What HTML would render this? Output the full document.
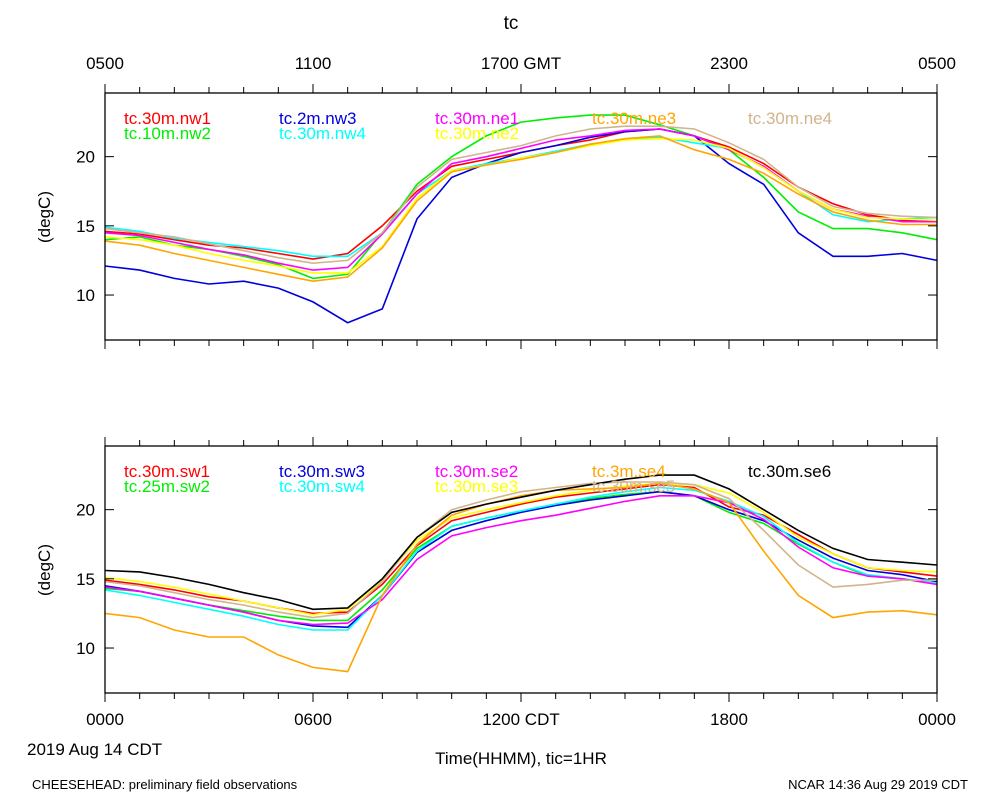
<!DOCTYPE html>
<html><head><meta charset="utf-8"><style>
body{margin:0;background:#fff;}
svg{display:block;font-family:"Liberation Sans",sans-serif;}
</style></head><body>
<svg id="chart" width="1000" height="800" xmlns="http://www.w3.org/2000/svg">
<rect width="1000" height="800" fill="#fff"/>
<text x="511" y="29" font-size="19" text-anchor="middle">tc</text>
<text x="27" y="755" font-size="17">2019 Aug 14 CDT</text>
<text x="521" y="764" font-size="17" text-anchor="middle">Time(HHMM), tic=1HR</text>
<text x="32" y="789" font-size="13">CHEESEHEAD: preliminary field observations</text>
<text x="968" y="789" font-size="13" text-anchor="end">NCAR 14:36 Aug 29 2019 CDT</text>
</svg>
<script>
const hours=[0,1,2,3,4,5,6,7,8,9,10,11,12,13,14,15,16,17,18,19,20,21,22,23,24];
const topTickLabels=["0500","1100","1700 GMT","2300","0500"];
const bottomTickLabels=["0000","0600","1200 CDT","1800","0000"];
const yTicks=[10,15,20];
const topNames=["tc.30m.nw1","tc.10m.nw2","tc.2m.nw3","tc.30m.nw4","tc.30m.ne1","tc.30m.ne2","tc.30m.ne3","tc.30m.ne4"];
const topColors=["#ff0000","#00ee00","#0000dd","#00ffff","#ff00ff","#ffff00","#ffa500","#d2b48c"];
const nw1=[14.6,14.4,14.0,13.6,13.4,13.0,12.6,13.0,15.0,17.5,19.3,19.8,20.3,20.8,21.2,21.8,22.0,21.5,20.7,19.5,17.8,16.6,15.8,15.4,15.3];
const nw2=[14.0,14.2,13.6,13.3,12.8,12.2,11.2,11.5,14.5,18.0,20.0,21.5,22.5,22.8,23.0,23.0,22.3,21.5,20.5,18.5,16.0,14.8,14.8,14.5,14.0];
const nw3=[12.1,11.8,11.2,10.8,11.0,10.5,9.5,8.0,9.0,15.5,18.5,19.5,20.3,20.8,21.4,21.8,22.0,21.5,19.5,18.0,14.5,12.8,12.8,13.0,12.5];
const nw4=[14.9,14.6,14.1,13.8,13.5,13.2,12.8,12.8,14.5,17.3,19.0,19.5,19.9,20.4,20.9,21.2,21.4,21.0,20.6,19.2,17.5,15.8,15.3,15.5,15.6];
const ne1=[14.5,14.3,13.8,13.3,12.9,12.3,11.8,12.0,14.4,17.3,19.5,20.0,20.6,21.2,21.5,21.9,22.0,21.5,20.5,19.3,17.5,16.2,15.7,15.3,15.3];
const ne2=[14.2,14.0,13.6,13.0,12.5,12.1,11.6,11.6,13.5,17.0,19.0,19.4,19.9,20.3,20.8,21.2,21.3,21.2,20.6,19.2,17.5,16.2,15.6,15.5,15.4];
const ne3=[13.9,13.6,13.0,12.5,12.0,11.5,11.0,11.3,13.4,16.8,18.9,19.4,19.8,20.3,20.9,21.3,21.5,20.5,19.8,18.8,17.3,16.0,15.4,15.1,15.1];
const ne4=[14.8,14.5,14.2,13.7,13.2,12.7,12.3,12.5,14.5,17.8,19.8,20.3,20.8,21.5,22.0,22.2,22.2,22.0,21.0,19.8,17.8,16.4,15.9,15.7,15.6];
const botNames=["tc.30m.sw1","tc.25m.sw2","tc.30m.sw3","tc.30m.sw4","tc.30m.se2","tc.30m.se3","tc.3m.se4","tc.30m.se5","tc.30m.se6"];
const botColors=["#ff0000","#00ee00","#0000dd","#00ffff","#ff00ff","#ffff00","#ffa500","#d2b48c","#000000"];
const sw1=[14.9,14.6,14.2,13.7,13.4,12.9,12.5,12.6,14.6,17.4,19.2,19.8,20.4,20.9,21.2,21.5,21.8,21.6,20.2,19.6,18.2,16.8,15.8,15.5,15.2];
const sw2=[14.3,14.1,13.6,13.1,12.7,12.3,12.0,12.0,14.2,17.2,18.8,19.4,19.9,20.4,20.8,21.1,21.3,21.0,19.8,19.0,17.5,16.2,15.2,15.0,14.7];
const sw3=[14.5,14.1,13.6,13.1,12.6,12.0,11.6,11.5,13.8,16.9,18.5,19.2,19.8,20.3,20.7,21.0,21.3,21.0,20.0,19.2,17.8,16.5,15.6,15.3,14.8];
const sw4=[14.2,13.8,13.3,12.8,12.3,11.7,11.3,11.3,13.8,17.0,18.8,19.4,19.9,20.4,20.9,21.3,21.6,21.4,20.6,19.5,17.6,16.2,15.3,15.0,14.7];
const se2=[14.4,14.1,13.6,13.1,12.6,12.0,11.7,11.8,13.5,16.4,18.1,18.7,19.2,19.6,20.1,20.6,21.0,21.0,20.5,19.3,17.3,15.8,15.2,15.0,14.6];
const se3=[15.1,14.8,14.4,13.9,13.4,12.9,12.4,12.8,14.9,17.8,19.4,20.0,20.5,21.0,21.4,21.7,21.9,21.8,21.2,19.8,18.0,16.8,15.8,15.6,15.5];
const se4=[12.5,12.2,11.3,10.8,10.8,9.5,8.6,8.3,13.8,17.5,19.6,20.4,21.0,21.4,21.5,21.6,21.9,21.5,20.5,17.0,13.8,12.2,12.6,12.7,12.4];
const se5=[14.8,14.5,14.0,13.5,13.1,12.6,12.2,12.5,14.8,18.0,20.0,20.7,21.3,21.6,21.9,22.0,22.0,21.8,20.8,18.5,16.0,14.4,14.6,14.9,14.9];
const se6=[15.6,15.5,15.1,14.6,14.0,13.5,12.8,12.9,15.0,18.0,19.8,20.4,20.9,21.4,21.8,22.2,22.5,22.5,21.5,20.0,18.5,17.2,16.4,16.2,16.0];
const topSeries=[nw1,nw2,nw3,nw4,ne1,ne2,ne3,ne4];
const botSeries=[sw1,sw2,sw3,sw4,se2,se3,se4,se5,se6];

const NS="http://www.w3.org/2000/svg";
const svg=document.getElementById('chart');
const X0=105,X1=937,YMIN=6.75,YMAX=24.6;
function xScale(h){return X0+(X1-X0)*h/24;}
function mk(tag,attrs,parent){const e=document.createElementNS(NS,tag);for(const k in attrs)e.setAttribute(k,attrs[k]);(parent||svg).appendChild(e);return e;}

function panel(top,series,names,colors,pname){
  const bot=top+247;
  const yScale=v=>bot-(v-YMIN)/(YMAX-YMIN)*247;
  const g=mk('g',{});
  
  
  // lines
  series.forEach((s,i)=>{
    const p=mk('polyline',{points:s.map((v,j)=>xScale(hours[j]).toFixed(1)+','+yScale(v).toFixed(1)).join(' '),fill:'none',stroke:colors[i],'stroke-width':1.6},g);
    
    
  });
  // frame
  const fr=mk('rect',{x:X0,y:top,width:X1-X0,height:247,fill:'none',stroke:'#000','stroke-width':1.3},g);
  
  
  // x ticks
  for(let h=0;h<=24;h++){
    const x=xScale(h),len=(h%6===0)?9:6;
    mk('line',{x1:x,x2:x,y1:top,y2:top-len,stroke:'#000'},g);
    mk('line',{x1:x,x2:x,y1:bot,y2:bot+len,stroke:'#000'},g);
  }
  // y ticks
  yTicks.forEach(v=>{
    const y=yScale(v);
    mk('line',{x1:X0,x2:X0+9,y1:y,y2:y,stroke:'#000'},g);
    mk('line',{x1:X1,x2:X1-9,y1:y,y2:y,stroke:'#000'},g);
    const t=mk('text',{x:95,y:y+6,'font-size':17,'text-anchor':'end'},g);
    t.textContent=v;
    
    
  });
  const yt=mk('text',{x:0,y:0,'font-size':17,'text-anchor':'middle',transform:`translate(50,${top+124}) rotate(-90)`},g);
  yt.textContent='(degC)';
  
  
  // legend
  const cols=[124,279,435,592,748];
  names.forEach((n,i)=>{
    let c,r;
    if(i===names.length-1&&names.length%2===1){c=4;r=0;}else{c=Math.floor(i/2);r=i%2;}
    if(names.length===8&&i===7){c=4;r=0;}
    const t=mk('text',{x:cols[c],y:top+31+r*15,'font-size':17,fill:colors[i]},g);
    t.textContent=n;
    
    
  });
  return {top,bot};
}
const pt=panel(93,topSeries,topNames,topColors,'top');
const pb=panel(446,botSeries,botNames,botColors,'bottom');
topTickLabels.forEach((l,i)=>{
  const t=mk('text',{x:xScale(i*6),y:69,'font-size':17,'text-anchor':'middle'});
  t.textContent=l;
  
  
});
bottomTickLabels.forEach((l,i)=>{
  const t=mk('text',{x:xScale(i*6),y:725,'font-size':17,'text-anchor':'middle'});
  t.textContent=l;
  
  
});
</script>
</body></html>
